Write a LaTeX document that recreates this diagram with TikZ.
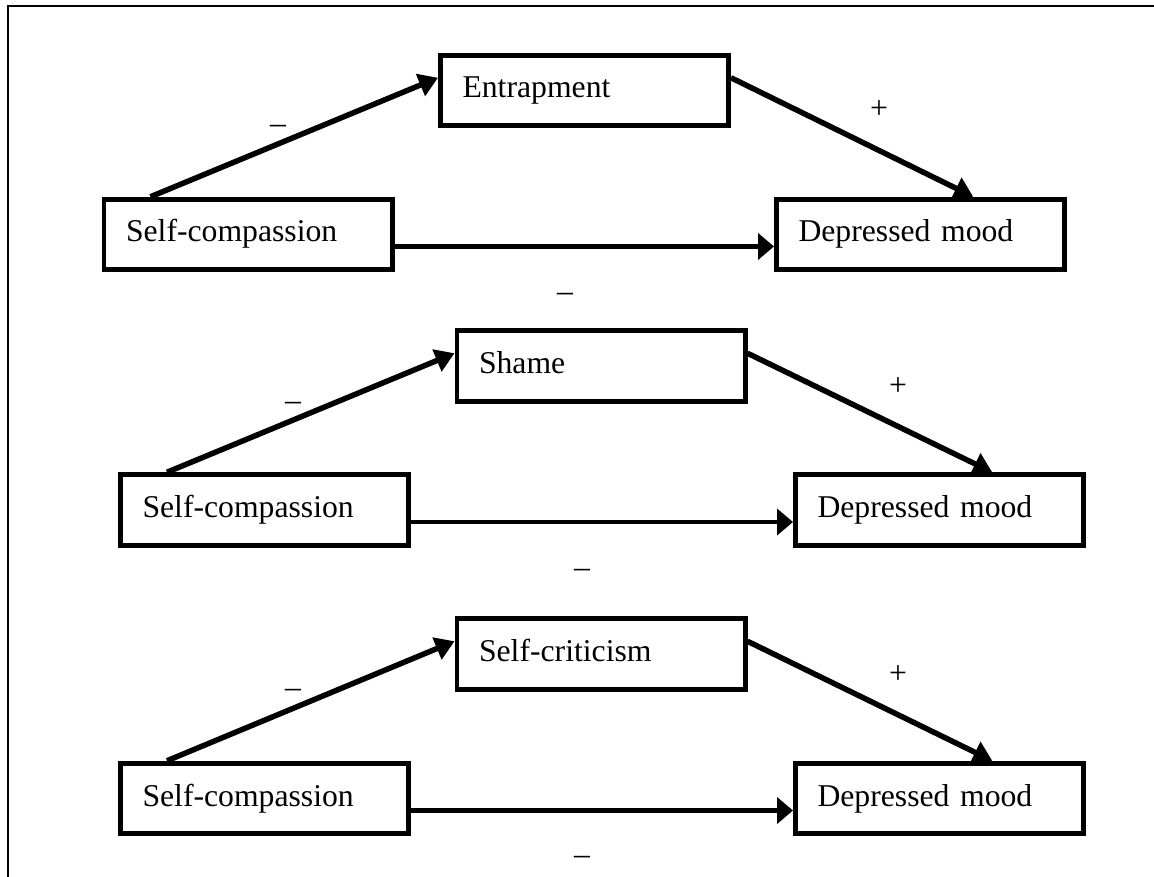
\documentclass[tikz,border=0pt]{standalone}
\usepackage{fontspec}
\setmainfont{Liberation Serif}
\usetikzlibrary{arrows.meta,calc}
\pgfdeclarelayer{bg}
\pgfsetlayers{bg,main}
\begin{document}
\begin{tikzpicture}[x=1pt,y=-1pt,
  font=\fontsize{31.7}{38}\selectfont,
  box/.style={draw, line width=4.8pt, fill=white, rectangle,
    minimum width=288.2pt, minimum height=70.7pt,
    text width=244pt, inner xsep=22pt, inner ysep=0pt, align=left,
    text height=22pt, text depth=7pt},
  slant/.style={line width=5.5pt, -{Triangle[length=19pt,width=23pt]}},
  flat/.style={line width=4.2pt, -{Triangle[length=16pt,width=26pt]}},
  sign/.style={anchor=base, inner sep=0pt}]
\useasboundingbox (0,0) rectangle (1154,877);
% outer frame (top and left edges)
\draw[line width=2pt] (7.5,877) -- (7.5,6.5) -- (1154,6.5);

% model 1: entrapment
\node[box] (sc1)  at (248,234.5)  {Self-compassion};
\node[box] (med1) at (584.5,90.5) {Entrapment};
\node[box] (dm1)  at (920.5,234.5){Depressed mood};
\node[sign] (a1) at (278,134) {–};
\node[sign] (b1) at (879,119) {+};
\node[sign] (c1) at (565,302) {–};

% model 2: shame
\node[box] (sc2)  at (264.5,510) {Self-compassion};
\node[box] (med2) at (601,366)   {Shame};
\node[box] (dm2)  at (939.5,510) {Depressed mood};
\node[sign] (a2) at (293,410) {–};
\node[sign] (b2) at (898,395) {+};
\node[sign] (c2) at (582,577) {–};

% model 3: self-criticism
\node[box] (sc3)  at (264.5,798.5) {Self-compassion};
\node[box] (med3) at (601,654)     {Self-criticism};
\node[box] (dm3)  at (939.5,798.5) {Depressed mood};
\node[sign] (a3) at (293,697) {–};
\node[sign] (b3) at (898,683) {+};
\node[sign] (c3) at (582,864) {–};

% paths, drawn beneath the boxes
\begin{pgfonlayer}{bg}
\foreach \i in {1,2,3}{
  \draw[slant] ($(sc\i.north west)+(49,0)$) -- ($(med\i.north west)+(0,25)$);
  \draw[slant] ($(med\i.north east)+(0,25)$) -- ($(dm\i.north west)!0.68!(dm\i.north east)$);
  \draw[flat] ($(sc\i.east)+(0,12)$) -- ($(dm\i.west)+(0,12)$);
}
\end{pgfonlayer}
\end{tikzpicture}
\end{document}
